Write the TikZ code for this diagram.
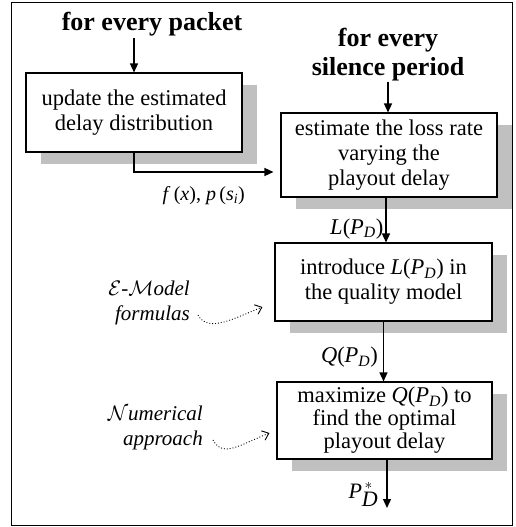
\RequirePackage{fix-cm}
\documentclass[tikz,border=0pt]{standalone}
\usepackage{fontspec}
\setmainfont{Liberation Serif}
\usetikzlibrary{arrows.meta, shadows}
\definecolor{shadowgray}{RGB}{192,192,192}
\newcommand{\bodysize}{\fontsize{22.5}{25}\selectfont}
\newcommand{\headsize}{\fontsize{26}{28}\selectfont\bfseries}
\newcommand{\notesize}{\fontsize{21}{27}\selectfont\itshape}
\newcommand{\PD}{\textit{P}\textsubscript{\itshape D}}

\begin{document}
\begin{tikzpicture}[x=1pt, y=-1pt, >={Triangle[length=9pt,width=8pt]},
  box/.style={draw, fill=white, line width=1.1pt, minimum width=216pt, align=center, font=\bodysize,
    drop shadow={shadow xshift=15pt, shadow yshift=-12pt, fill=shadowgray, opacity=1}},
  head/.style={font=\headsize, inner sep=1pt},
  flow/.style={->, line width=1.3pt},
  note/.style={font=\notesize, inner sep=0pt},
  hint/.style={-{Straight Barb[length=6pt,width=10pt]}, dotted, line width=0.9pt},
  lbl/.style={font=\bodysize, inner sep=2pt}]
	\useasboundingbox (0,0) rectangle (516,527);
	% outer frame
	\draw[line width=0.8pt] (11,2) rectangle (512,525);

	% Headings
	\node[head, anchor=base] (packet) at (152,31) {for every packet};
	\node[head, anchor=base] (every) at (388,47) {for every};
	\node[head, anchor=base] (silence) at (388,75) {silence period};

	% Boxes
	\node[box, minimum height=79pt] (update) at (134,112.5) {update the estimated\\delay distribution};
	\node[box, minimum height=84pt] (estimate) at (389,155) {estimate the loss rate\\varying the\\playout delay};
	\node[box, minimum width=217pt, minimum height=78pt] (introduce) at (383.5,282) {introduce \textit{L}(\PD) in\\the quality model};
	\node[box, minimum width=215pt, minimum height=77pt, font=\fontsize{22.5}{23}\selectfont] (maximize) at (384.5,420.5) {maximize \textit{Q}(\PD) to\\find the optimal\\playout delay};

	% Side notes
	\node[note, anchor=east] (emodel) at (190,288) {$\mathcal{E}$-$\mathcal{M}$odel};
	\node[note, anchor=east] (formulas) at (190,315) {formulas};
	\node[note, anchor=east] (numerical) at (203,413) {$\mathcal{N}$umerical};
	\node[note, anchor=east] (approach) at (203,440) {approach};

	% Output end
	\coordinate (out) at (387,508);

	% Flow
	\draw[flow] (update.north |- packet.south) -- (update.north);
	\draw[flow] (silence.south) -- (silence.south |- estimate.north);
	\draw[flow] (update.south) |- ([xshift=-7pt,yshift=-17pt]estimate.west)
		node[lbl, below=12pt, pos=0.75, font=\fontsize{20}{22}\selectfont] {\textit{f}\,(\textit{x}), \textit{p}\,(\textit{s}\textsubscript{\itshape i})};
	\draw[flow] ([xshift=-3pt]estimate.south) -- ([xshift=-3pt]estimate.south |- introduce.north)
		node[lbl, left, pos=0.7] {\textit{L}(\PD)};
	\draw[flow] (introduce.south) -- (introduce.south |- maximize.north)
		node[lbl, left=3pt, pos=0.6] {\textit{Q}(\PD)};
	\draw[flow] (maximize.south -| out) -- (out)
		node[lbl, left=6pt, pos=0.72, font=\fontsize{22}{24}\selectfont] {$\textit{P}^{\,*}_{\textit{D}}$};

	% Dotted hints
	\draw[hint] ([xshift=8pt]formulas.east) .. controls +(10,18) and +(-30,12) .. ([xshift=-12pt,yshift=-25pt]introduce.west);
	\draw[hint] ([xshift=10pt]approach.east) .. controls +(10,18) and +(-30,12) .. ([xshift=-7pt,yshift=-12.5pt]maximize.west);
\end{tikzpicture}
\end{document}
